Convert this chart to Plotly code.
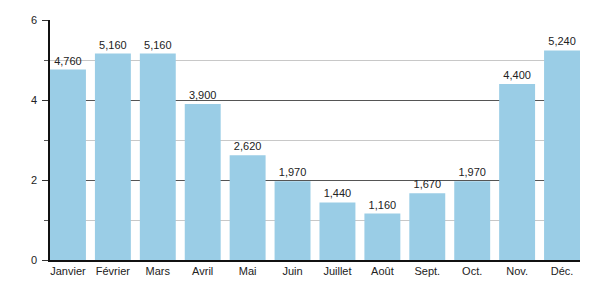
import plotly.graph_objects as go

months = ["Janvier", "Février", "Mars", "Avril", "Mai", "Juin", "Juillet", "Août", "Sept.", "Oct.", "Nov.", "Déc."]
values = [4.76, 5.16, 5.16, 3.90, 2.62, 1.97, 1.44, 1.16, 1.67, 1.97, 4.40, 5.24]
labels = [f"{v:.3f}".replace(".", ",") for v in values]

fig = go.Figure(go.Bar(
    x=months, y=values, text=labels, textposition="outside",
    marker=dict(color="#9ACDE6", line=dict(width=0)),
    textfont=dict(family="Liberation Sans, Arial", size=11, color="#222"),
    cliponaxis=False,
))
fig.update_layout(
    width=600, height=300,
    margin=dict(l=50, r=20, t=20, b=40),
    plot_bgcolor="white", paper_bgcolor="white",
    bargap=0.2, showlegend=False,
    font=dict(family="Liberation Sans, Arial", size=11, color="#222"),
)
fig.update_yaxes(
    range=[0, 6], tickvals=[0, 2, 4, 6], showline=True, linecolor="#111", linewidth=1.5,
    ticks="outside", ticklen=6, tickcolor="#333",
    showgrid=True, gridcolor="#555", gridwidth=1,
    minor=dict(tickvals=[1, 3, 5], showgrid=True, gridcolor="#c8c8c8", ticks="outside", ticklen=4, tickcolor="#555"),
    zeroline=False, ticklabelstandoff=3,
)
fig.update_xaxes(range=[-0.4, 11.4], showline=True, linecolor="#111", linewidth=1.5, ticks="", tickfont=dict(size=11))
fig.write_html("out.html")
